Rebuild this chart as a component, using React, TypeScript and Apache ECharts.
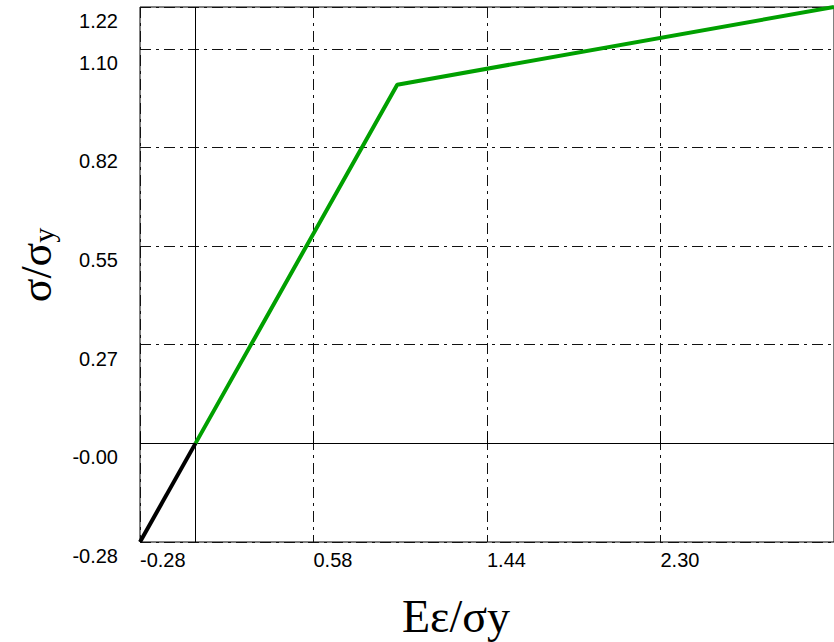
import React, { useEffect, useRef } from "react";
import * as echarts from "echarts";

const elasticPoints: [number, number][] = [
  [-0.275, -0.275],
  [0, 0],
];
const plasticPoints: [number, number][] = [
  [0, 0],
  [1.0, 1.0],
  [3.165, 1.2165],
];
const xTickValues = [-0.275, 0.585, 1.445, 2.305];
const xTickLabels = ["-0.28", "0.58", "1.44", "2.30"];
const yTickValues = [-0.275, 0, 0.275, 0.55, 0.825, 1.1, 1.2165];
const yTickLabels = ["-0.28", "-0.00", "0.27", "0.55", "0.82", "1.10", "1.22"];
const xMin = -0.275;
const xMax = 3.165;
const yMin = -0.275;
const yMax = 1.2165;

const dashDot = [11, 5, 3, 5];

function labelFor(values: number[], labels: string[], v: number) {
  for (let i = 0; i < values.length; i++) {
    if (Math.abs(values[i] - v) < 1e-6) return labels[i];
  }
  return "";
}

export default function App() {
  const ref = useRef<HTMLDivElement>(null);
  useEffect(() => {
    if (!ref.current) return;
    const chart = echarts.init(ref.current, undefined, { renderer: "svg" });
    chart.setOption({
      animation: false,
      backgroundColor: "#fff",
      grid: {
        left: 140,
        top: 7,
        right: -10,
        bottom: 100,
        show: true,
        borderColor: "#000",
        borderWidth: 1,
        backgroundColor: "transparent",
      },
      xAxis: {
        type: "value",
        min: xMin,
        max: xMax,
        axisLine: { show: false },
        axisTick: {
          show: true,
          inside: true,
          length: 11,
          customValues: xTickValues,
          lineStyle: { color: "#000", width: 1 },
        },
        axisLabel: {
          customValues: xTickValues,
          formatter: (v: number) => labelFor(xTickValues, xTickLabels, v),
          align: "left",
          margin: 8,
          color: "#000",
          fontSize: 20,
          fontFamily: "'Liberation Sans', Arial, sans-serif",
        },
        splitLine: {
          show: true,
          lineStyle: { color: "#111", width: 1, type: dashDot },
        },
      },
      yAxis: {
        type: "value",
        min: yMin,
        max: yMax,
        axisLine: { show: false },
        axisTick: { show: false, customValues: yTickValues },
        axisLabel: {
          customValues: yTickValues,
          formatter: (v: number) => labelFor(yTickValues, yTickLabels, v),
          verticalAlign: "top",
          padding: [4, 0, 0, 0],
          margin: 22,
          color: "#000",
          fontSize: 20,
          fontFamily: "'Liberation Sans', Arial, sans-serif",
        },
        splitLine: {
          show: true,
          lineStyle: { color: "#111", width: 1, type: dashDot },
        },
      },
      graphic: [
        {
          type: "text",
          x: 456,
          y: 616,
          style: {
            text: "Eε/σy",
            fontSize: 46,
            fontFamily: "'Liberation Serif', 'Times New Roman', serif",
            fill: "#000",
            align: "center",
            verticalAlign: "middle",
          },
        },
        {
          type: "text",
          x: 36,
          y: 265,
          rotation: Math.PI / 2,
          style: {
            text: "{a|σ/σ}{b|y}",
            fontFamily: "'Liberation Serif', 'Times New Roman', serif",
            fill: "#000",
            align: "center",
            verticalAlign: "middle",
            rich: {
              a: {
                fontSize: 44,
                fontFamily: "'Liberation Serif', 'Times New Roman', serif",
                fill: "#000",
                verticalAlign: "bottom",
              },
              b: {
                fontSize: 30,
                fontFamily: "'Liberation Serif', 'Times New Roman', serif",
                fill: "#000",
                verticalAlign: "bottom",
              },
            },
          },
        },
      ],
      series: [
        {
          type: "line",
          data: plasticPoints,
          symbol: "none",
          lineStyle: { color: "#00a000", width: 4 },
          z: 3,
          markLine: {
            silent: true,
            symbol: "none",
            label: { show: false },
            lineStyle: { color: "#000", width: 1, type: "solid" },
            data: [{ xAxis: 0 }, { yAxis: 0 }],
            z: 1,
          },
        },
        {
          type: "line",
          data: elasticPoints,
          symbol: "none",
          lineStyle: { color: "#000", width: 4 },
          z: 4,
        },
      ],
    });
    return () => chart.dispose();
  }, []);
  return (
    <div
      ref={ref}
      style={{ width: 834, height: 642, position: "absolute", left: 0, top: 0 }}
    />
  );
}
